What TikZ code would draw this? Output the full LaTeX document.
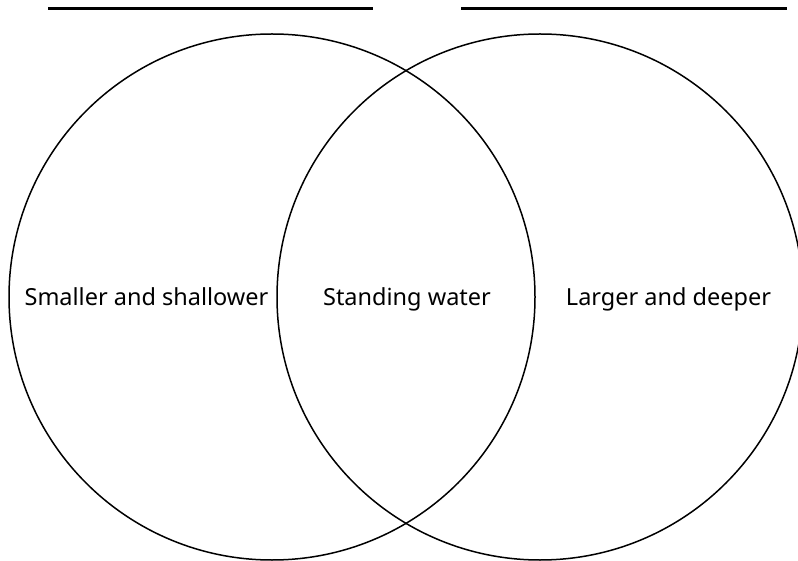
\documentclass[tikz,border=0pt]{standalone}
\usepackage{fontspec}
\setmainfont{Noto Sans}
\begin{document}
\begin{tikzpicture}[x=1pt, y=-1pt,
  set/.style={draw, circle, line width=1.5pt, minimum size=526pt, inner sep=0pt},
  blank/.style={line width=2.6pt},
  label/.style={font=\fontsize{23.5}{28}\selectfont, anchor=base}
]
\useasboundingbox (0,0) rectangle (798,561);
\node[set] (small) at (272,297) {};
\node[set] (large) at (540,297) {};
\coordinate (l1) at (48,8.7);
\coordinate (l2) at (373,8.7);
\coordinate (r1) at (461,8.7);
\coordinate (r2) at (787,8.7);
\draw[blank] (l1) -- (l2);
\draw[blank] (r1) -- (r2);
\node[label] (smalltxt) at (146.5,306) {Smaller and shallower};
\node[label] (bothtxt) at (407,306) {Standing water};
\node[label] (largetxt) at (668.5,306) {Larger and deeper};
\end{tikzpicture}
\end{document}
